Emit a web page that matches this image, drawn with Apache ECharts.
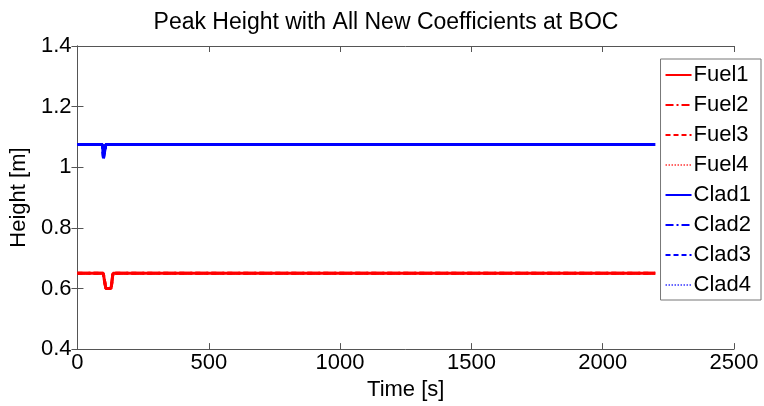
<!DOCTYPE html>
<html><head><meta charset="utf-8">
<script src="https://cdn.jsdelivr.net/npm/echarts@6/dist/echarts.min.js"></script>
<style>html,body{margin:0;padding:0;background:#fff}#c{width:764px;height:406px}</style>
</head><body><div id="c"></div>
<script>
const seriesNames = ['Fuel1','Fuel2','Fuel3','Fuel4','Clad1','Clad2','Clad3','Clad4'];
const fuelTime = [0, 98, 108, 128, 135, 2200];
const fuelHeight = [0.65, 0.65, 0.60, 0.60, 0.65, 0.65];
const cladTime = [0, 95, 99, 104, 108, 2200];
const cladHeight = [1.075, 1.075, 1.03, 1.03, 1.075, 1.075];
const xTicks = [0, 500, 1000, 1500, 2000, 2500];
const yTicks = [0.4, 0.6, 0.8, 1.0, 1.2, 1.4];

const pairs = (t, v) => t.map((x, i) => [x, v[i]]);
const dashTypes = ['solid', [8,3,2,3], [5,3], [1.5,1.5]];
const font = 'Liberation Sans, Arial, sans-serif';

const series = seriesNames.map((name, i) => {
  const isFuel = i < 4;
  const k = i % 4;
  return {
    name, type: 'line', symbol: 'none', animation: false,
    data: isFuel ? pairs(fuelTime, fuelHeight) : pairs(cladTime, cladHeight),
    lineStyle: { color: isFuel ? '#ff0000' : '#0000ff', width: k === 3 ? 1.5 : 3, type: dashTypes[k], opacity: k === 3 ? 0.6 : 1 },
    itemStyle: { color: isFuel ? '#ff0000' : '#0000ff' },
    z: 10 - i
  };
});

const axisCommon = {
  axisLine: { show: true, lineStyle: { color: '#555', width: 1 } },
  axisTick: { show: true, inside: true, length: 6, lineStyle: { color: '#555' } },
  splitLine: { show: false }
};

const chart = echarts.init(document.getElementById('c'), null, { renderer: 'canvas' });
chart.setOption({
  animation: false,
  backgroundColor: '#fff',
  title: { text: 'Peak Height with All New Coefficients at BOC', left: 381, textAlign: 'center', top: 6,
    textStyle: { fontFamily: font, fontSize: 23, fontWeight: 'normal', color: '#000' } },
  grid: { left: 76, right: 30, top: 46, bottom: 51 },
  legend: {
    data: seriesNames, orient: 'vertical', right: 3, top: 59,
    itemWidth: 26, itemHeight: 12, itemGap: 8,
    backgroundColor: '#fff', borderColor: '#777', borderWidth: 1, borderRadius: 0,
    padding: [5, 10, 4, 4],
    itemStyle: { opacity: 0 },
    textStyle: { fontFamily: font, fontSize: 22, color: '#000', padding: [0, 0, 0, -3] }
  },
  xAxis: [
    Object.assign({ type: 'value', min: 0, max: 2500, interval: 500,
      name: 'Time [s]', nameLocation: 'middle', nameGap: 28,
      nameTextStyle: { fontFamily: font, fontSize: 22, color: '#000' },
      axisLabel: { fontFamily: font, fontSize: 22, color: '#000', margin: 3,
        formatter: v => xTicks.includes(v) ? String(v) : '' } }, axisCommon),
    Object.assign({ type: 'value', min: 0, max: 2500, interval: 500, position: 'top',
      axisLabel: { show: false } }, axisCommon)
  ],
  yAxis: [
    Object.assign({ type: 'value', min: 0.4, max: 1.4, interval: 0.2,
      name: 'Height [m]', nameLocation: 'middle', nameGap: 45,
      nameTextStyle: { fontFamily: font, fontSize: 22, color: '#000' },
      axisLabel: { fontFamily: font, fontSize: 22, color: '#000', margin: 6,
        formatter: v => { const r = Math.round(v * 10) / 10; return yTicks.some(t => Math.abs(t - r) < 1e-6) ? String(r) : ''; } } }, axisCommon),
    Object.assign({ type: 'value', min: 0.4, max: 1.4, interval: 0.2, position: 'right',
      axisLabel: { show: false } }, axisCommon)
  ],
  series
});
</script></body></html>
